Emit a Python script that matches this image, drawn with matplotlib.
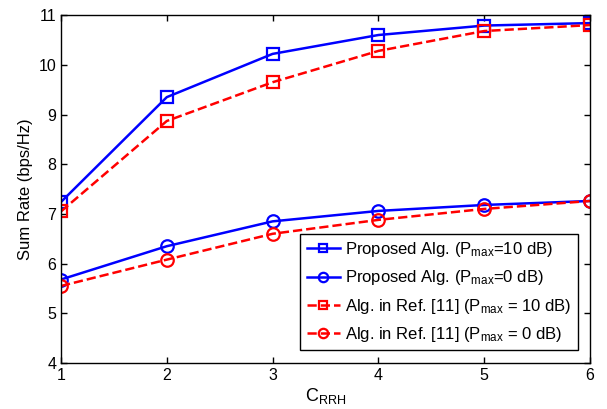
import matplotlib
matplotlib.use("Agg")
import matplotlib.pyplot as plt

plt.rcParams['font.family'] = ['Liberation Sans', 'DejaVu Sans']
plt.rcParams['mathtext.fontset'] = 'custom'
plt.rcParams['mathtext.rm'] = 'Liberation Sans'
plt.rcParams['mathtext.it'] = 'Liberation Sans'

c_rrh = [1, 2, 3, 4, 5, 6]
prop_10db = [7.24, 9.35, 10.22, 10.60, 10.79, 10.84]
ref_10db = [7.05, 8.87, 9.65, 10.28, 10.68, 10.80]
prop_0db = [5.68, 6.35, 6.85, 7.06, 7.18, 7.26]
ref_0db = [5.55, 6.08, 6.60, 6.88, 7.10, 7.26]

labels = [r'Proposed Alg. (P$_{\mathrm{max}}$=10 dB)',
          r'Proposed Alg. (P$_{\mathrm{max}}$=0 dB)',
          r'Alg. in Ref. [11] (P$_{\mathrm{max}}$ = 10 dB)',
          r'Alg. in Ref. [11] (P$_{\mathrm{max}}$ = 0 dB)']

fig = plt.figure(figsize=(6.07, 4.09), dpi=100)
ax = fig.add_axes([0.1005, 0.1125, 0.8715, 0.8505])

ms = 8
ax.plot(c_rrh, prop_10db, '-s', color='#0000ff', lw=1.8, ms=ms, mfc='none', mew=1.6, label=labels[0])
ax.plot(c_rrh, prop_0db, '-o', color='#0000ff', lw=1.8, ms=ms + 1, mfc='none', mew=1.6, label=labels[1])
ax.plot(c_rrh, ref_10db, '--s', color='#ff0000', lw=1.8, ms=ms, mfc='none', mew=1.6, label=labels[2])
ax.plot(c_rrh, ref_0db, '--o', color='#ff0000', lw=1.8, ms=ms + 1, mfc='none', mew=1.6, label=labels[3])

ax.set_xlim(1, 6)
ax.set_ylim(4, 11)
ax.set_xticks(c_rrh)
ax.set_yticks(range(4, 12))
ax.tick_params(direction='in', top=True, right=True, labelsize=11.5, length=4, width=1)
for s in ax.spines.values():
    s.set_linewidth(1.0)
ax.set_xlabel(r'C$_{\mathrm{RRH}}$', fontsize=13, labelpad=2)
ax.set_ylabel('Sum Rate (bps/Hz)', fontsize=12)

leg = ax.legend(loc='lower right', fontsize=12, frameon=True, fancybox=False,
                edgecolor='black', framealpha=1, handlelength=2.0, borderpad=0.4,
                labelspacing=0.55, handletextpad=0.3, bbox_to_anchor=(0.993, 0.012),
                markerscale=0.75)
leg.get_frame().set_linewidth(1.0)

fig.savefig('out.png', dpi=100)
